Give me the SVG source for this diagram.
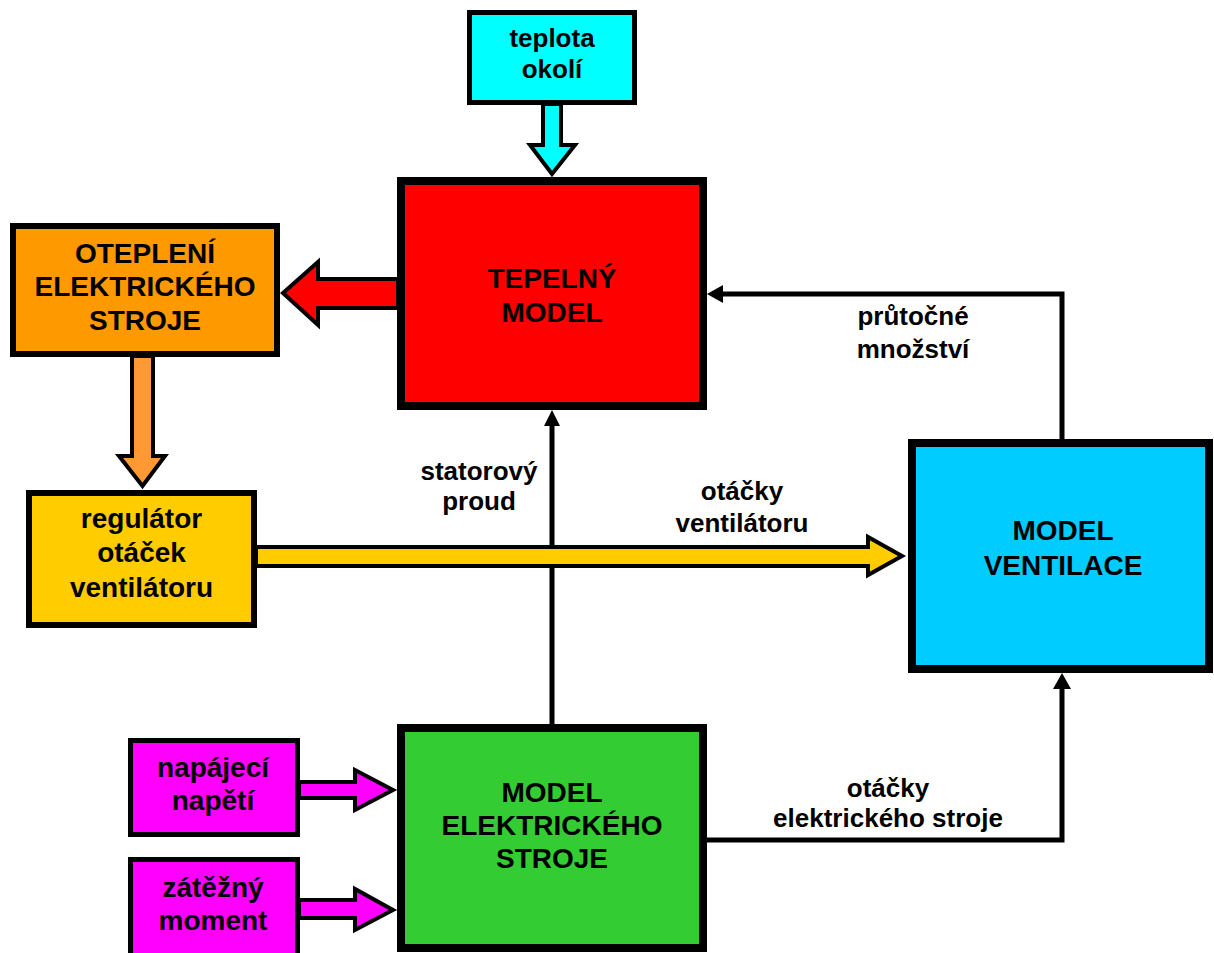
<svg xmlns="http://www.w3.org/2000/svg" width="1214" height="953" viewBox="0 0 1214 953">
<style>
text{font-family:"Liberation Sans",Arial,sans-serif;font-weight:bold;fill:#000;text-anchor:middle}
.big{font-size:28px}
.lbl{font-size:26px}
.box{stroke:#000}
.blk{stroke:#000;stroke-width:4;stroke-linejoin:miter}
.ln{fill:none;stroke:#000;stroke-width:5}
.ah{fill:#000}
</style>
<rect width="1214" height="953" fill="#fff"/>
<g id="connectors">
  <polygon class="blk" fill="#00FFFF" points="543,104 561,104 561,145 575,145 552,174 530,145 543,145"/>
  <polygon class="blk" fill="#FF0000" points="398,279 318,279 318,262 283,293 318,325 318,308 398,308"/>
  <polygon class="blk" fill="#FF9933" points="132,356 153,356 153,456 165,456 142.5,486 119,456 132,456"/>
  <path class="ln" d="M552,724 V424"/>
  <polygon class="ah" points="552,410 560,426 544,426"/>
  <polygon class="blk" fill="#FFCC00" points="256,547 868,547 868,537 902,556 868,575 868,566 256,566"/>
  <polygon class="blk" fill="#FF00FF" points="299,782 355,782 355,770 393,790 355,810 355,798 299,798"/>
  <polygon class="blk" fill="#FF00FF" points="299,900 355,900 355,889 393,910 355,930 355,918 299,918"/>
  <path class="ln" d="M1062,440 V294 H722"/>
  <polygon class="ah" points="707,294 723,285 723,303"/>
  <path class="ln" d="M707,840 H1062 V687"/>
  <polygon class="ah" points="1062,673 1071,689 1053,689"/>
  <text class="lbl" x="913" y="325">průtočné</text>
  <text class="lbl" x="913" y="358">množství</text>
  <text class="lbl" x="479" y="480">statorový</text>
  <text class="lbl" x="479" y="510">proud</text>
  <text class="lbl" x="742" y="500">otáčky</text>
  <text class="lbl" x="742" y="532">ventilátoru</text>
  <text class="lbl" x="888" y="797">otáčky</text>
  <text class="lbl" x="888" y="827">elektrického stroje</text>
</g>
<g id="teplota">
  <rect class="box" x="469.5" y="12.5" width="165" height="90" fill="#00FFFF" stroke-width="5"/>
  <text class="lbl" x="552" y="47">teplota</text>
  <text class="lbl" x="552" y="78">okolí</text>
</g>
<g id="tepelny">
  <rect class="box" x="401" y="181" width="302" height="225" fill="#FF0000" stroke-width="8"/>
  <text class="big" x="552" y="288">TEPELNÝ</text>
  <text class="big" x="552" y="322">MODEL</text>
</g>
<g id="oteplen">
  <rect class="box" x="13" y="226" width="264" height="128" fill="#FF9900" stroke-width="6"/>
  <text class="big" x="145" y="263">OTEPLENÍ</text>
  <text class="big" x="145" y="296">ELEKTRICKÉHO</text>
  <text class="big" x="145" y="330">STROJE</text>
</g>
<g id="regulator">
  <rect class="box" x="29" y="493" width="225" height="132" fill="#FFCC00" stroke-width="6"/>
  <text class="big" x="141.5" y="528">regulátor</text>
  <text class="big" x="141.5" y="562">otáček</text>
  <text class="big" x="141.5" y="597">ventilátoru</text>
</g>
<g id="ventilace">
  <rect class="box" x="912" y="443" width="297" height="226" fill="#00CCFF" stroke-width="8"/>
  <text class="big" x="1063" y="540">MODEL</text>
  <text class="big" x="1063" y="575">VENTILACE</text>
</g>
<g id="stroj">
  <rect class="box" x="401" y="728" width="302" height="220" fill="#33CC33" stroke-width="8"/>
  <text class="big" x="552" y="802">MODEL</text>
  <text class="big" x="552" y="835">ELEKTRICKÉHO</text>
  <text class="big" x="552" y="868">STROJE</text>
</g>
<g id="napeti">
  <rect class="box" x="130.5" y="740.5" width="167" height="94" fill="#FF00FF" stroke-width="5"/>
  <text class="big" x="213" y="777">napájecí</text>
  <text class="big" x="213" y="810">napětí</text>
</g>
<g id="moment">
  <rect class="box" x="130.5" y="859.5" width="167" height="100" fill="#FF00FF" stroke-width="5"/>
  <text class="big" x="213" y="897">zátěžný</text>
  <text class="big" x="213" y="930">moment</text>
</g>
</svg>
